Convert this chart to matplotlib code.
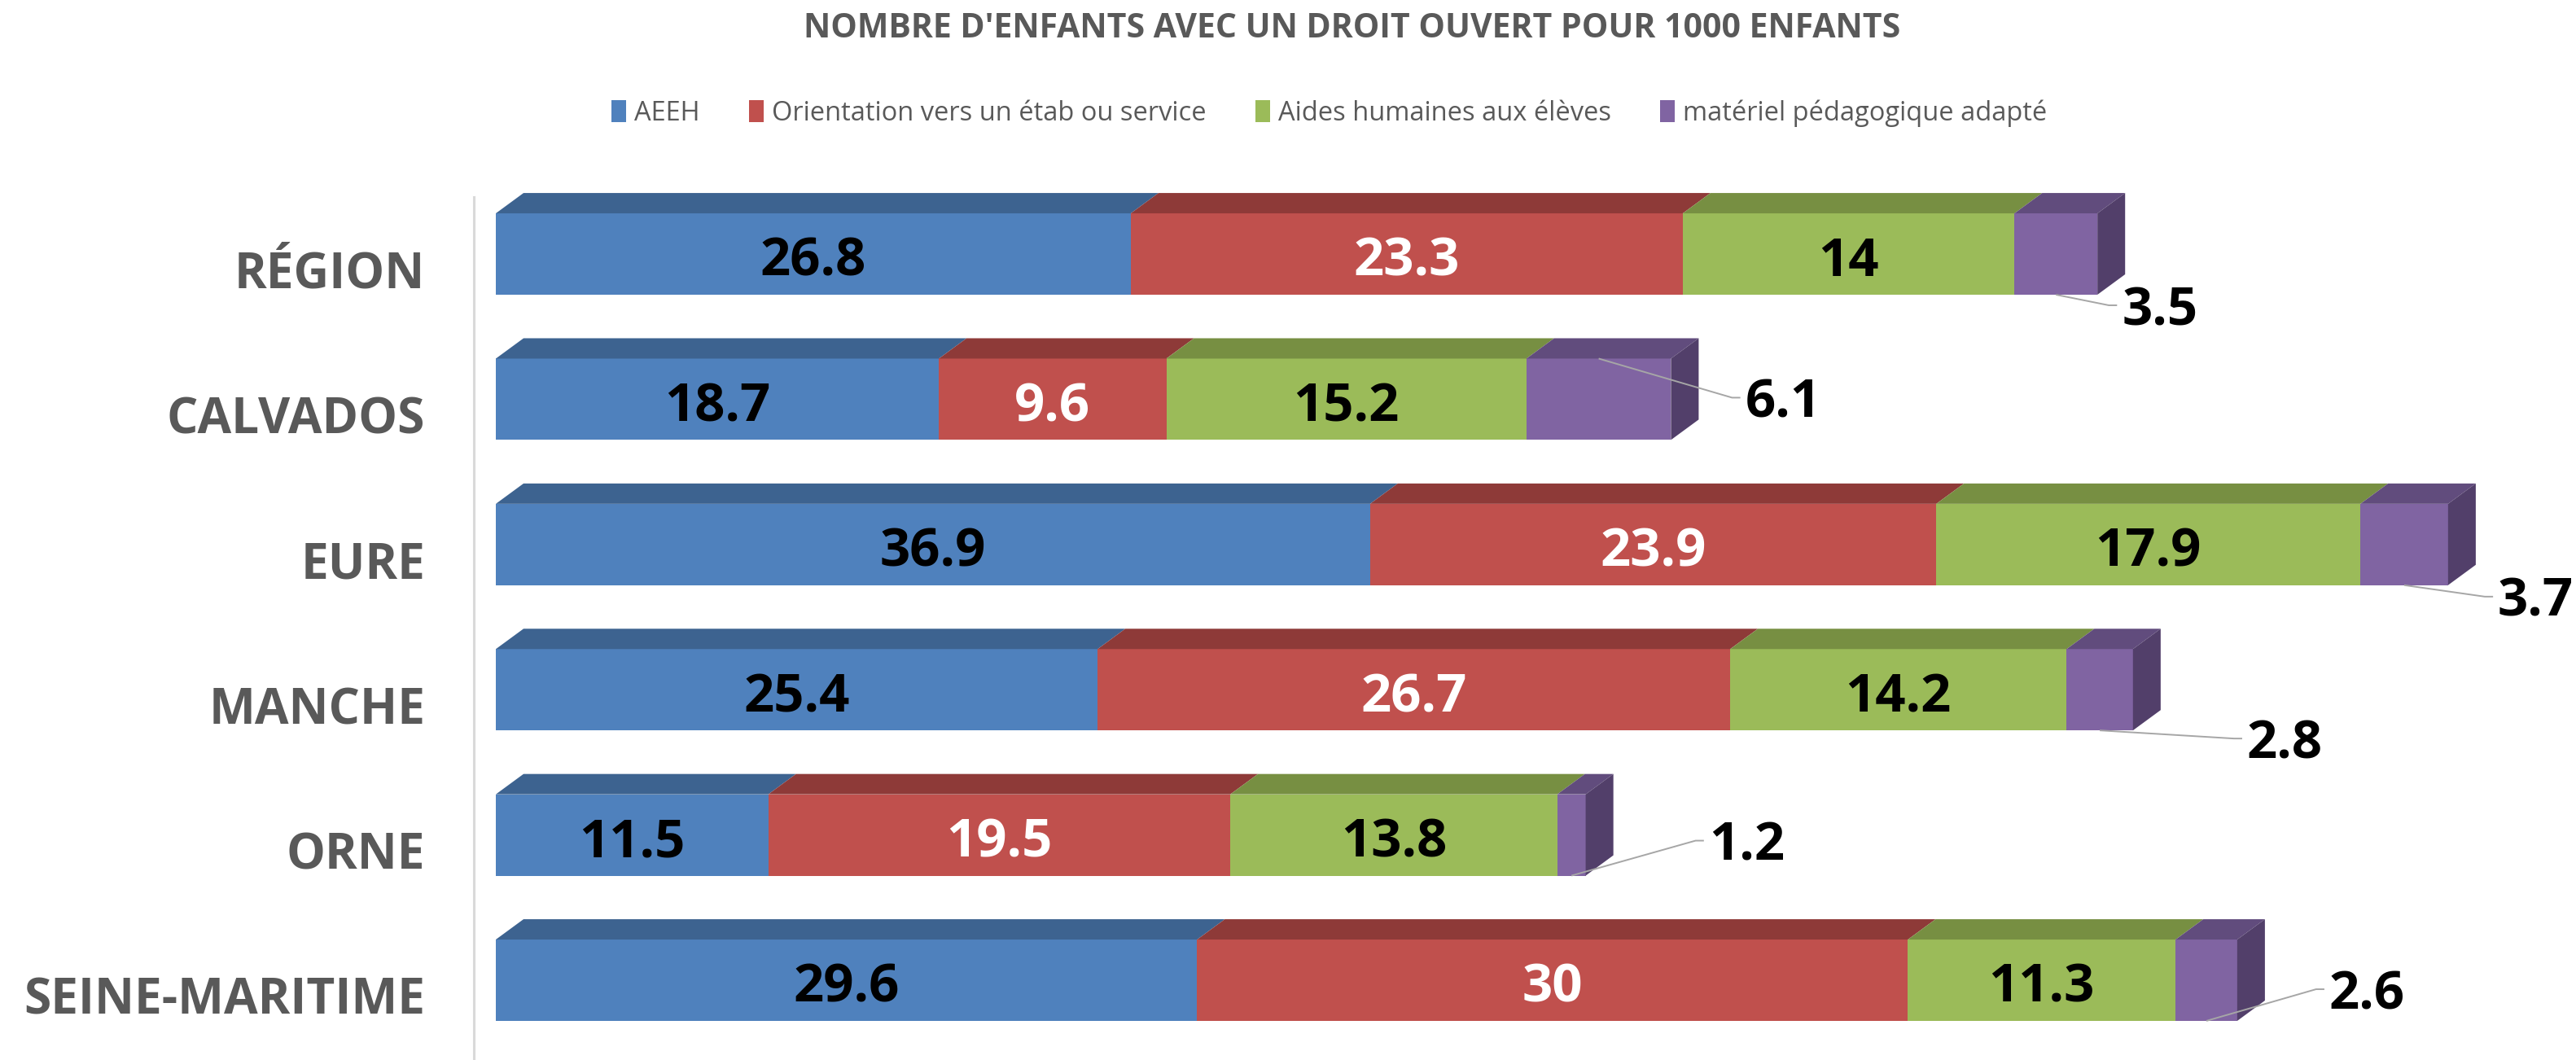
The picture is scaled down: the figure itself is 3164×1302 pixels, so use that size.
import matplotlib.pyplot as plt
from matplotlib.patches import Polygon, Patch


regions = ['RÉGION', 'CALVADOS', 'EURE', 'MANCHE', 'ORNE', 'SEINE-MARITIME']
aeeh = [26.8, 18.7, 36.9, 25.4, 11.5, 29.6]
orientation = [23.3, 9.6, 23.9, 26.7, 19.5, 30]
aides_humaines = [14, 15.2, 17.9, 14.2, 13.8, 11.3]
materiel = [3.5, 6.1, 3.7, 2.8, 1.2, 2.6]
series_names = ['AEEH', 'Orientation vers un étab ou service',
                'Aides humaines aux élèves', 'matériel pédagogique adapté']

# front, top and side colours for each series
FRONT = ['#4F81BD', '#C0504D', '#9BBB59', '#8064A2']
TOP = ['#3D6390', '#8E3A38', '#778F42', '#614C7D']
SIDE = ['#2F4C6E', '#6E2C2A', '#5C6E33', '#523F6A']
LABEL_COLORS = ['black', 'white', 'black']

# where the outside labels of the last series sit (x: units after the bar end, y: rows)
OUT_DX = [1.03, 3.13, 2.10, 4.81, 5.19, 3.88]
OUT_DY = [0.353, -0.011, 0.359, 0.336, 0.039, 0.062]

TITLE = "NOMBRE D'ENFANTS AVEC UN DROIT OUVERT POUR 1000 ENFANTS"
GREY = '#595959'
FONT = ['Open Sans', 'DejaVu Sans']

BAR_H = 0.56
DEPTH_X = 1.17
DEPTH_Y = 0.14


def draw_bars(ax, series):
    n = len(regions)
    left = [0.0] * n
    for s, values in enumerate(series):
        ax.barh(range(n), values, left=left, height=BAR_H, color=FRONT[s],
                edgecolor='none', zorder=2)
        for i, v in enumerate(values):
            x0, x1 = left[i], left[i] + v
            top = i - BAR_H / 2
            bottom = i + BAR_H / 2
            ax.add_patch(Polygon([(x0, top), (x1, top), (x1 + DEPTH_X, top - DEPTH_Y),
                                  (x0 + DEPTH_X, top - DEPTH_Y)],
                                 closed=True, color=TOP[s], lw=0, zorder=2))
            if s == len(series) - 1:
                ax.add_patch(Polygon([(x1, top), (x1 + DEPTH_X, top - DEPTH_Y),
                                      (x1 + DEPTH_X, bottom - DEPTH_Y), (x1, bottom)],
                                     closed=True, color=SIDE[s], lw=0, zorder=2))
                # outside label with leader line
                lx = x1 + OUT_DX[i]
                ly = i + OUT_DY[i]
                sx = (x0 + x1) / 2
                sy = top if i == 1 else bottom
                ax.plot([sx, lx - 0.55, lx - 0.2], [sy, ly, ly], color='#A6A6A6',
                        lw=1.4, zorder=3, solid_capstyle='butt')
                ax.text(lx, ly + 0.135, f'{v:g}', ha='left', va='baseline',
                        fontsize=47, fontweight='bold', color='black',
                        family=FONT, zorder=4)
            else:
                ax.text((x0 + x1) / 2, i + 0.151, f'{v:g}', ha='center',
                        va='baseline', fontsize=47, fontweight='bold',
                        color=LABEL_COLORS[s], family=FONT, zorder=4)
        left = [l + v for l, v in zip(left, values)]


def main():
    fig = plt.figure(figsize=(31.64, 13.02), dpi=100)
    ax = fig.add_axes([0, 0, 1, 1])
    px_per_unit = 29.1
    row_px = 178.4
    ax.set_xlim(-609 / px_per_unit, (3164 - 609) / px_per_unit)
    ax.set_ylim((1302 - 312) / row_px, -312 / row_px)
    ax.axis('off')

    draw_bars(ax, [aeeh, orientation, aides_humaines, materiel])

    for i, name in enumerate(regions):
        ax.text(-2.98, i + 0.235, name, ha='right', va='baseline', fontsize=43.5,
                fontweight='bold', color=GREY, family=FONT)

    ax.axvline(-0.93, ymin=0, ymax=0.814, color='#D9D9D9', lw=2.2, zorder=1)

    fig.text(0.525, 1 - 36 / 1302, TITLE, ha='center', va='center', fontsize=29.5,
             fontweight='bold', color=GREY, family=FONT)

    handles = [Patch(facecolor=c, edgecolor='none') for c in FRONT]
    fig.legend(handles, series_names, loc='center', ncol=4,
               bbox_to_anchor=(0.516, 1 - 139 / 1302), frameon=False,
               prop={'family': FONT, 'size': 23.5}, labelcolor=GREY,
               handlelength=0.55, handleheight=0.9, handletextpad=0.3,
               columnspacing=1.85)

    fig.savefig('out.png', dpi=100, facecolor='white')
    plt.close(fig)


if __name__ == '__main__':
    main()
